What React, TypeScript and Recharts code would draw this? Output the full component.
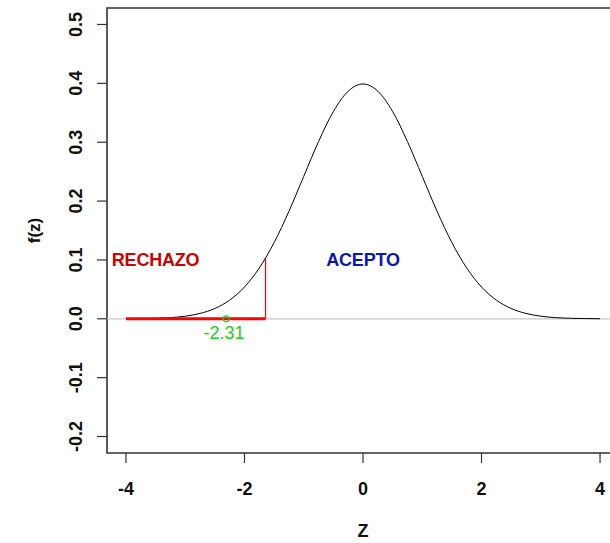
import React from "react";
import {
  ComposedChart,
  Line,
  XAxis,
  YAxis,
  ReferenceLine,
  ReferenceArea,
  Scatter,
  Label,
} from "recharts";

// Standard normal density
const zValues = [
  -4, -3.75, -3.5, -3.25, -3, -2.75, -2.5, -2.25, -2, -1.75, -1.5, -1.25, -1, -0.75, -0.5, -0.25,
  0, 0.25, 0.5, 0.75, 1, 1.25, 1.5, 1.75, 2, 2.25, 2.5, 2.75, 3, 3.25, 3.5, 3.75, 4,
];
const densityValues = [
  0.0001, 0.0004, 0.0009, 0.002, 0.0044, 0.0091, 0.0175, 0.0317, 0.054, 0.0863, 0.1295, 0.1826,
  0.242, 0.3011, 0.3521, 0.3867, 0.3989, 0.3867, 0.3521, 0.3011, 0.242, 0.1826, 0.1295, 0.0863,
  0.054, 0.0317, 0.0175, 0.0091, 0.0044, 0.002, 0.0009, 0.0004, 0.0001,
];

// Rejection region
const rejectZ = [-4, -1.645];
const rejectY = [0, 0];
const criticalZ = [-1.645, -1.645];
const criticalY = [0, 0.103];

// Test statistic
const statZ = [-2.31];
const statY = [0];
const statLabel = "-2.31";

// Region labels
const regionZ = [-3.5, 0];
const regionY = [0.1, 0.1];
const regionLabels = ["RECHAZO", "ACEPTO"];
const regionColors = ["#cc0000", "#0a14b8"];

const xTicks = [-4, -2, 0, 2, 4];
const yTicks = [-0.2, -0.1, 0, 0.1, 0.2, 0.3, 0.4, 0.5];
const xDomain = [-4.32, 4.32];
const yDomain = [-0.228, 0.528];

const curveData = zValues.map((z, i) => ({ x: z, y: densityValues[i] }));
const rejectData = rejectZ.map((z, i) => ({ x: z, y: rejectY[i] }));
const criticalData = criticalZ.map((z, i) => ({ x: z, y: criticalY[i] }));
const statData = statZ.map((z, i) => ({ x: z, y: statY[i] }));
const regionData = regionZ.map((z, i) => ({
  x: z,
  y: regionY[i],
  label: regionLabels[i],
  color: regionColors[i],
}));

const FONT = "'Liberation Sans', Arial, sans-serif";

const YTick = (props: any) => {
  const { y, payload } = props;
  return (
    <text
      transform={`translate(76,${y}) rotate(-90)`}
      textAnchor="middle"
      dominantBaseline="central"
      fontFamily={FONT}
      fontSize={18}
      fontWeight="bold"
      fill="#111"
    >
      {payload.value.toFixed(1)}
    </text>
  );
};

const XTick = (props: any) => {
  const { x, payload } = props;
  return (
    <text
      x={x}
      y={489}
      textAnchor="middle"
      dominantBaseline="central"
      fontFamily={FONT}
      fontSize={18}
      fontWeight="bold"
      fill="#111"
    >
      {String(payload.value)}
    </text>
  );
};

const RegionText = (props: any) => {
  const { cx, cy, payload } = props;
  return (
    <text
      x={cx}
      y={cy}
      textAnchor="middle"
      dominantBaseline="central"
      fontFamily={FONT}
      fontSize={18}
      fontWeight="bold"
      letterSpacing={-0.2}
      fill={payload.color}
    >
      {payload.label}
    </text>
  );
};

const StatDot = (props: any) => {
  const { cx, cy } = props;
  return (
    <g>
      <circle cx={cx} cy={cy} r={3} fill="none" stroke="#22cc22" strokeWidth={1.2} />
      <text
        x={cx - 2}
        y={cy + 14}
        textAnchor="middle"
        dominantBaseline="central"
        fontFamily={FONT}
        fontSize={18}
        fill="#22cc22"
      >
        {statLabel}
      </text>
    </g>
  );
};

export default function App() {
  return (
    <div
      style={{
        position: "absolute",
        left: 0,
        top: 0,
        width: 610,
        height: 543,
        overflow: "hidden",
        background: "#fff",
      }}
    >
      <ComposedChart
        width={620}
        height={543}
        margin={{ top: 8, right: 1, bottom: 0, left: 0 }}
      >
        <XAxis
          dataKey="x"
          type="number"
          domain={xDomain}
          ticks={xTicks}
          allowDataOverflow
          height={90}
          tickSize={10}
          tickLine={{ stroke: "#333", strokeWidth: 1.2 }}
          axisLine={false}
          tick={<XTick />}
          interval={0}
        >
          <Label
            value="Z"
            position="insideBottom"
            offset={0}
            content={(p: any) => {
              const vb = p.viewBox;
              return (
                <text
                  x={vb.x + vb.width / 2}
                  y={531}
                  textAnchor="middle"
                  dominantBaseline="central"
                  fontFamily={FONT}
                  fontSize={18}
                  fontWeight="bold"
                  fill="#111"
                >
                  Z
                </text>
              );
            }}
          />
        </XAxis>
        <YAxis
          dataKey="y"
          type="number"
          domain={yDomain}
          ticks={yTicks}
          allowDataOverflow
          width={107}
          tickSize={10}
          tickLine={{ stroke: "#333", strokeWidth: 1.2 }}
          axisLine={false}
          tick={<YTick />}
          interval={0}
        >
          <Label
            value="f(z)"
            position="insideLeft"
            content={(p: any) => {
              const vb = p.viewBox;
              return (
                <text
                  transform={`translate(34,${vb.y + vb.height / 2}) rotate(-90)`}
                  textAnchor="middle"
                  dominantBaseline="central"
                  fontFamily={FONT}
                  fontSize={17}
                  fontWeight="bold"
                  fill="#111"
                >
                  f(z)
                </text>
              );
            }}
          />
        </YAxis>
        <ReferenceArea
          x1={xDomain[0]}
          x2={xDomain[1]}
          y1={yDomain[0]}
          y2={yDomain[1]}
          fill="none"
          stroke="#333"
          strokeWidth={1.6}
          ifOverflow="visible"
        />
        <ReferenceLine y={0} stroke="#c8c8c8" strokeWidth={1.2} />
        <Line
          data={curveData}
          dataKey="y"
          type="monotone"
          stroke="#000"
          strokeWidth={1}
          dot={false}
          isAnimationActive={false}
        />
        <Line
          data={rejectData}
          dataKey="y"
          type="linear"
          stroke="#ff0000"
          strokeWidth={3}
          dot={false}
          isAnimationActive={false}
        />
        <Line
          data={criticalData}
          dataKey="y"
          type="linear"
          stroke="#ff0000"
          strokeWidth={1.2}
          dot={false}
          isAnimationActive={false}
        />
        <Scatter data={statData} dataKey="y" shape={<StatDot />} isAnimationActive={false} />
        <Scatter data={regionData} dataKey="y" shape={<RegionText />} isAnimationActive={false} />
      </ComposedChart>
    </div>
  );
}
